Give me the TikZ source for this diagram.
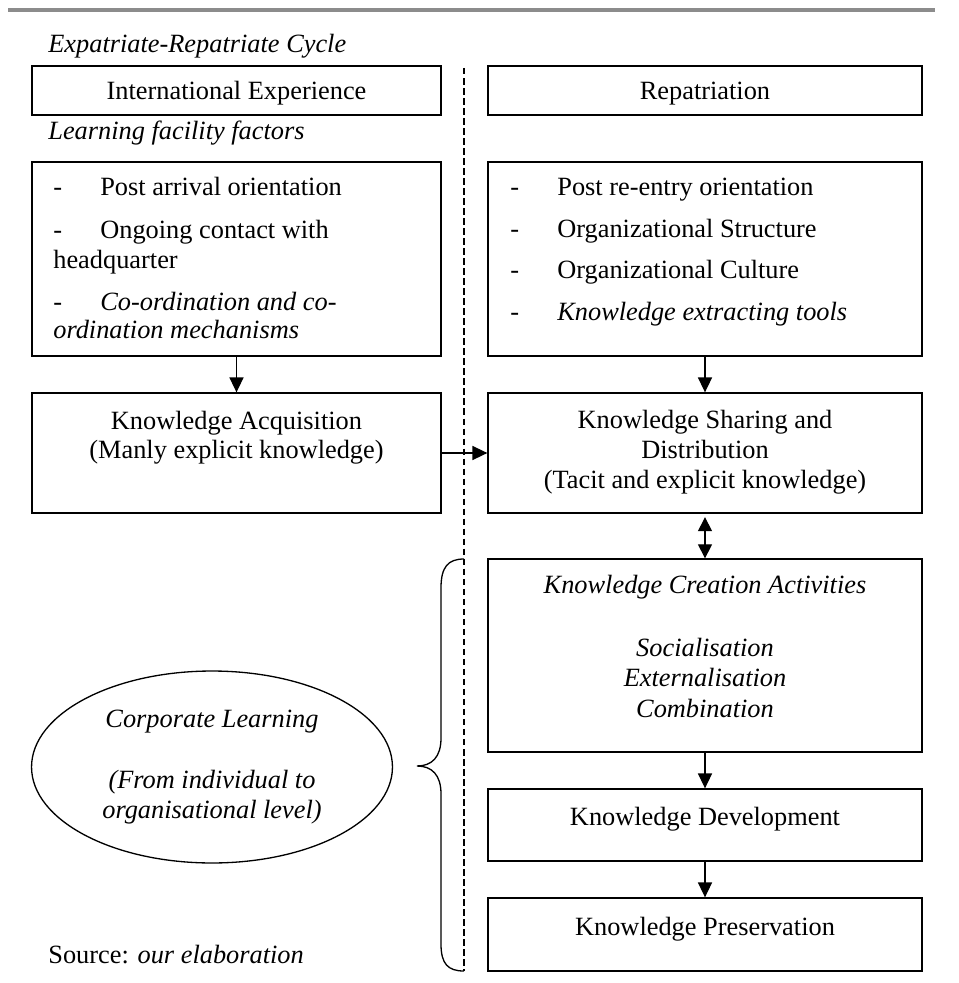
\documentclass[tikz,border=0pt]{standalone}
\usepackage{fontspec}
\setmainfont{Liberation Serif}
\usetikzlibrary{arrows.meta,fit,shapes.geometric}
\definecolor{rulegray}{RGB}{140,140,140}
\newcommand{\listdash}[1]{\makebox[0.94cm][l]{-}#1}
\tikzset{
  box/.style={draw, line width=0.75pt, inner sep=0pt},
  txt/.style={inner sep=0pt, font=\fontsize{15}{17}\selectfont},
  flow/.style={-{Triangle[width=8pt,length=8.5pt]}, line width=0.75pt},
  twoway/.style={{Triangle[width=8pt,length=8pt]}-{Triangle[width=8pt,length=8pt]}, line width=0.75pt},
}

\begin{document}
\begin{tikzpicture}[x=0.02cm,y=-0.02cm]
  \useasboundingbox (0,0) rectangle (959,983);
  % header rule and the dashed divider between the two phases
  \draw[rulegray, line width=2pt] (8,10) -- (935,10);
  \draw[dashed, dash pattern=on 3.7pt off 2pt, line width=0.7pt] (464,68) -- (464,971);

  \node[txt, anchor=base west] (cycle) at (48,53) {\itshape Expatriate-Repatriate Cycle};
  \node[txt, anchor=base west] (factors) at (48,140) {\itshape Learning facility factors};

  % top row
  \node[box, fit={(32,66) (441,115)}] (ie) {};
  \node[txt, anchor=base] (iet) at (236.5,100) {International Experience};
  \node[box, fit={(488,66) (922,115)}] (rep) {};
  \node[txt, anchor=base] (rept) at (705,100) {Repatriation};

  % learning facility factors, left and right
  \node[box, fit={(32,162) (441,356)}] (lff) {};
  \node[txt, anchor=base west] (lf1) at (53,195) {\listdash{Post arrival orientation}};
  \node[txt, anchor=base west] (lf2) at (53,238) {\listdash{Ongoing contact with}};
  \node[txt, anchor=base west] (lf2b) at (53,268) {headquarter};
  \node[txt, anchor=base west] (lf3) at (53,310) {\listdash{\itshape Co-ordination and co-}};
  \node[txt, anchor=base west] (lf3b) at (53,338) {\itshape ordination mechanisms};

  \node[box, fit={(488,162) (922,356)}] (rff) {};
  \node[txt, anchor=base west] (rf1) at (510,195) {\listdash{Post re-entry orientation}};
  \node[txt, anchor=base west] (rf2) at (510,237) {\listdash{Organizational Structure}};
  \node[txt, anchor=base west] (rf3) at (510,278) {\listdash{Organizational Culture}};
  \node[txt, anchor=base west] (rf4) at (510,320) {\listdash{\itshape Knowledge extracting tools}};

  % knowledge boxes
  \node[box, fit={(32,393) (441,513)}] (ka) {};
  \node[txt, anchor=base] (ka1) at (236.5,429) {Knowledge Acquisition};
  \node[txt, anchor=base] (ka2) at (236.5,458) {(Manly explicit knowledge)};

  \node[box, fit={(488,393) (922,513)}] (ks) {};
  \node[txt, anchor=base] (ks1) at (705,428) {Knowledge Sharing and};
  \node[txt, anchor=base] (ks2) at (705,458) {Distribution};
  \node[txt, anchor=base] (ks3) at (705,488) {(Tacit and explicit knowledge)};

  \node[box, fit={(488,559) (922,752)}] (kc) {};
  \node[txt, anchor=base] (kc1) at (705,593) {\itshape Knowledge Creation Activities};
  \node[txt, anchor=base] (kc2) at (705,656) {\itshape Socialisation};
  \node[txt, anchor=base] (kc3) at (705,686) {\itshape Externalisation};
  \node[txt, anchor=base] (kc4) at (705,717) {\itshape Combination};

  \node[box, fit={(488,789) (922,861)}] (kd) {};
  \node[txt, anchor=base] (kdt) at (705,825) {Knowledge Development};
  \node[box, fit={(488,898) (922,971)}] (kp) {};
  \node[txt, anchor=base] (kpt) at (705,935) {Knowledge Preservation};

  % corporate learning
  \node[draw, ellipse, line width=0.75pt, inner sep=0pt, minimum width=7.22cm, minimum height=3.84cm,
        align=center, font=\itshape\fontsize{15}{17}\selectfont] (cl) at (212,767)
        {Corporate Learning\\[18pt](From individual to\\organisational level)};
  \draw[line width=0.75pt] (464,559) .. controls (448,559) and (441,567) .. (441,588) -- (441,738)
    .. controls (441,757) and (432,766) .. (417,766) .. controls (432,766) and (441,775) .. (441,794)
    -- (441,944) .. controls (441,964) and (448,971) .. (464,971);

  \node[txt, anchor=base west] (src) at (48,963) {Source: \textit{our elaboration}};

  % connectors
  \draw[flow] (lff.south) -- (ka.north);
  \draw[flow] (rff.south) -- (ks.north);
  \draw[flow] (ka.east) -- (ks.west);
  \draw[twoway, shorten <=2pt] (ks.south) -- (kc.north);
  \draw[flow] (kc.south) -- (kd.north);
  \draw[flow] (kd.south) -- (kp.north);
\end{tikzpicture}
\end{document}
